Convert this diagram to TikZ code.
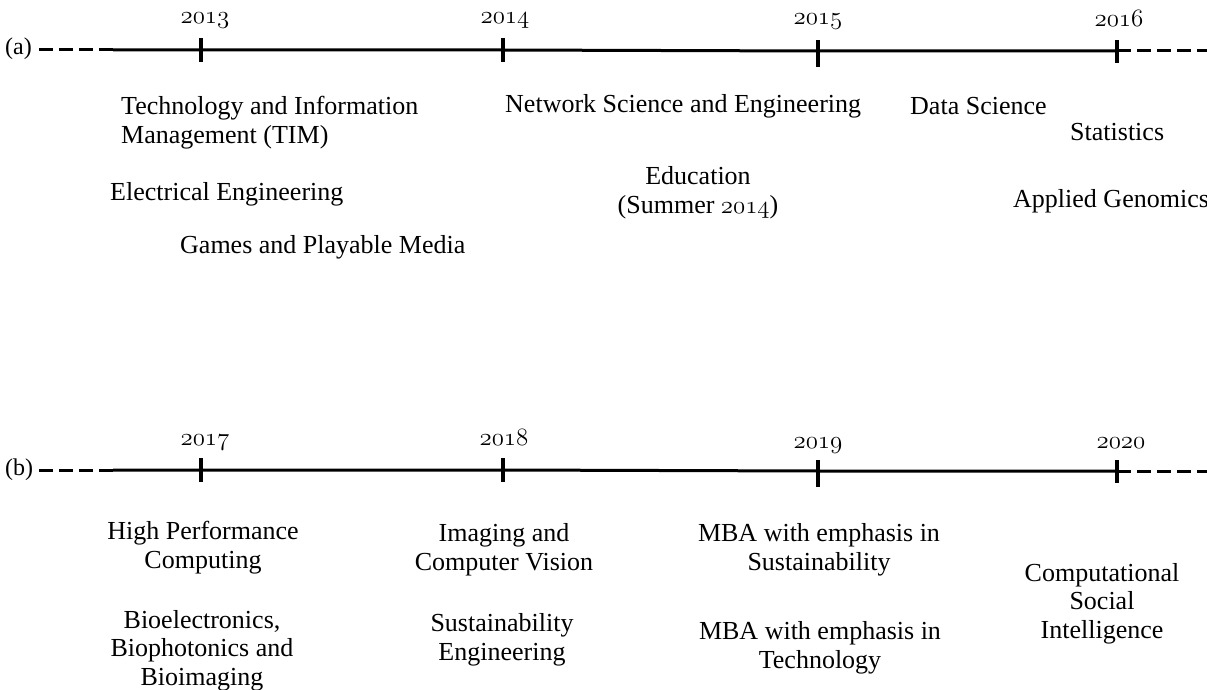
\documentclass[tikz,border=0pt]{standalone}
\usepackage{fontspec}
\setmainfont{Liberation Serif}
% old-style figures taken from the Latin Modern math italic font
\newcommand\oldnums[1]{{\usefont{OML}{lmm}{m}{it}#1}}
\begin{document}
\begin{tikzpicture}[x=1pt,y=-1pt,
  % multi-line labels are placed by the baseline of their last line
  lbl/.style={inner sep=0pt, font=\fontsize{26}{28.5}\selectfont, align=center, anchor=base},
  lbll/.style={lbl, align=left, anchor=base west},
  yr/.style={inner sep=0pt, font=\fontsize{25}{28}\selectfont, anchor=base},
  tag/.style={inner sep=0pt, font=\fontsize{24}{28}\selectfont, anchor=base west},
  axis/.style={line width=3pt},
  ext/.style={line width=3pt, dash pattern=on 14pt off 6pt},
  tickmark/.style={line width=3.5pt}]
\useasboundingbox (0,0) rectangle (1207,690);

% ---------- timeline (a) ----------
\coordinate (a0) at (39,50);
\coordinate (a1) at (113,50);
\coordinate (t13) at (201,50);
\coordinate (t14) at (503,50);
\coordinate (t15) at (818,51);
\coordinate (t16) at (1117,51);
\coordinate (a2) at (1207,51);
\draw[ext] (a0) -- (a1);
\draw[axis] (a1) -- (t13) -- (t14) -- (t15) -- (t16);
\draw[ext] (t16) -- (a2);
\draw[tickmark] (t13) ++(0,-12) -- ++(0,24);
\draw[tickmark] (t14) ++(0,-12) -- ++(0,24);
\draw[tickmark] (t15) ++(0,-11) -- ++(0,27);
\draw[tickmark] (t16) ++(0,-11) -- ++(0,23);

\node[tag] (taga) at (5,55) {(a)};
\node[yr] (y13) at (205,24) {\oldnums{2013}};
\node[yr] (y14) at (505,24) {\oldnums{2014}};
\node[yr] (y15) at (818,25) {\oldnums{2015}};
\node[yr] (y16) at (1119,27) {\oldnums{2016}};

\node[lbll] (tim) at (121,143) {Technology and Information\\Management (TIM)};
\node[lbll] (ee) at (110,200) {Electrical Engineering};
\node[lbll] (games) at (180,253) {Games and Playable Media};
\node[lbll] (nse) at (505,113) {Network Science and Engineering};
\node[lbl] (edu) at (698,213) {Education\\(Summer \oldnums{2014})};
\node[lbll] (ds) at (910,115) {Data Science};
\node[lbll] (stat) at (1070,140) {Statistics};
\node[lbll] (gen) at (1013,207) {Applied Genomics};

% ---------- timeline (b) ----------
\coordinate (b0) at (39,470);
\coordinate (b1) at (113,470);
\coordinate (t17) at (201,470);
\coordinate (t18) at (503,470);
\coordinate (t19) at (818,471);
\coordinate (t20) at (1117,471);
\coordinate (b2) at (1207,471);
\draw[ext] (b0) -- (b1);
\draw[axis] (b1) -- (t17) -- (t18) -- (t19) -- (t20);
\draw[ext] (t20) -- (b2);
\draw[tickmark] (t17) ++(0,-12) -- ++(0,24);
\draw[tickmark] (t18) ++(0,-12) -- ++(0,24);
\draw[tickmark] (t19) ++(0,-11) -- ++(0,27);
\draw[tickmark] (t20) ++(0,-11) -- ++(0,23);

\node[tag] (tagb) at (5,475) {(b)};
\node[yr] (y17) at (205,445) {\oldnums{2017}};
\node[yr] (y18) at (504,445) {\oldnums{2018}};
\node[yr] (y19) at (818,448) {\oldnums{2019}};
\node[yr] (y20) at (1121,448) {\oldnums{2020}};

\node[lbl] (hpc) at (203,568) {High Performance\\Computing};
\node[lbl] (bio) at (202,685) {Bioelectronics,\\Biophotonics and\\Bioimaging};
\node[lbl] (icv) at (504,570) {Imaging and\\Computer Vision};
\node[lbl] (se) at (502,660) {Sustainability\\Engineering};
\node[lbl] (mbas) at (819,570) {MBA with emphasis in\\Sustainability};
\node[lbl] (mbat) at (820,668) {MBA with emphasis in\\Technology};
\node[lbl] (csi) at (1102,638) {Computational\\Social\\Intelligence};
\end{tikzpicture}
\end{document}
